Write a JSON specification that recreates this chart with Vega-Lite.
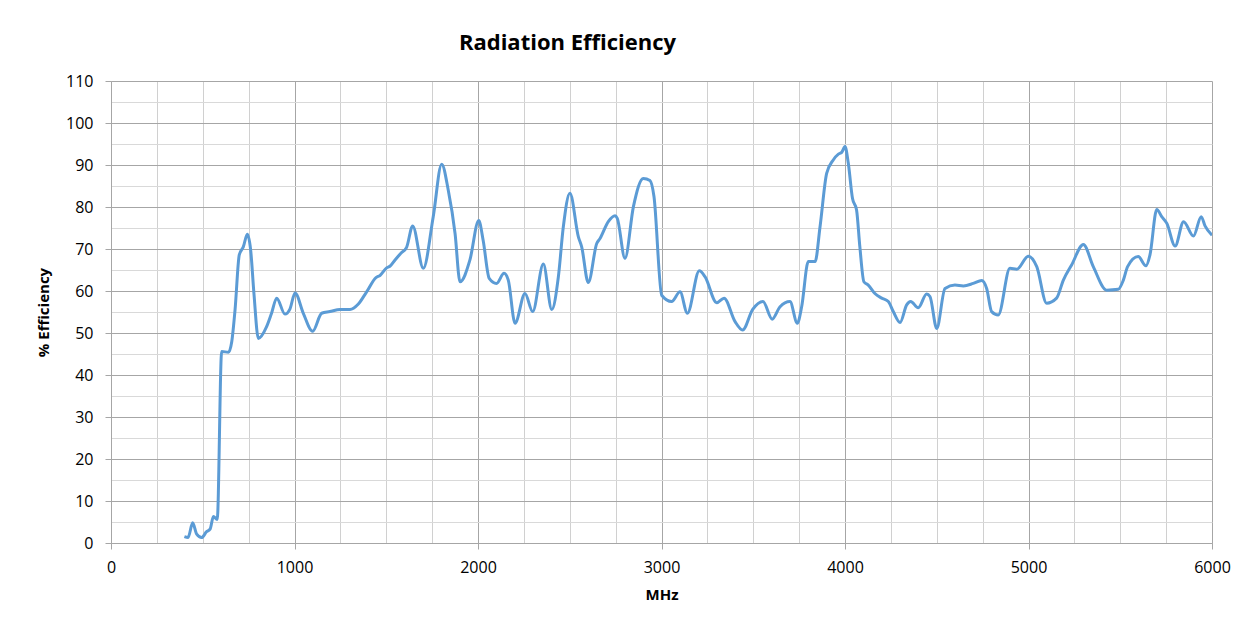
{
  "$schema": "https://vega.github.io/schema/vega-lite/v6.json",
  "width": 1101,
  "height": 462,
  "autosize": {"type": "none"},
  "padding": {"left": 111, "top": 81, "right": 34, "bottom": 89},
  "background": "white",
  "config": {
    "view": {"stroke": null},
    "font": "Open Sans"
  },
  "title": {
    "text": "Radiation Efficiency",
    "anchor": "middle",
    "dx": -94,
    "offset": 18,
    "font": "Open Sans",
    "fontSize": 22,
    "fontWeight": "bold",
    "color": "#000000"
  },
  "data": {
    "values": [
      {"MHz": 400, "eff": 1.5}, {"MHz": 420, "eff": 1.3}, {"MHz": 445, "eff": 4.8}, {"MHz": 467, "eff": 2.1},
      {"MHz": 494, "eff": 1.3}, {"MHz": 521, "eff": 2.7}, {"MHz": 540, "eff": 3.3}, {"MHz": 558, "eff": 6.3},
      {"MHz": 579, "eff": 5.6}, {"MHz": 603, "eff": 45.6}, {"MHz": 640, "eff": 45.4}, {"MHz": 658, "eff": 47.9},
      {"MHz": 676, "eff": 55.5}, {"MHz": 699, "eff": 68.6}, {"MHz": 721, "eff": 70.5}, {"MHz": 743, "eff": 73.5},
      {"MHz": 761, "eff": 69.8}, {"MHz": 779, "eff": 59.4}, {"MHz": 803, "eff": 48.7}, {"MHz": 848, "eff": 51.5},
      {"MHz": 875, "eff": 54.7}, {"MHz": 903, "eff": 58.3}, {"MHz": 948, "eff": 54.5}, {"MHz": 975, "eff": 55.7},
      {"MHz": 1003, "eff": 59.5}, {"MHz": 1048, "eff": 54.7}, {"MHz": 1099, "eff": 50.4}, {"MHz": 1148, "eff": 54.7},
      {"MHz": 1193, "eff": 55.1}, {"MHz": 1248, "eff": 55.6}, {"MHz": 1302, "eff": 55.6}, {"MHz": 1348, "eff": 56.9},
      {"MHz": 1393, "eff": 59.8}, {"MHz": 1444, "eff": 63.2}, {"MHz": 1466, "eff": 63.7}, {"MHz": 1502, "eff": 65.5},
      {"MHz": 1520, "eff": 65.9}, {"MHz": 1548, "eff": 67.4}, {"MHz": 1580, "eff": 69.0}, {"MHz": 1611, "eff": 70.4},
      {"MHz": 1644, "eff": 75.5}, {"MHz": 1702, "eff": 65.4}, {"MHz": 1756, "eff": 77.7}, {"MHz": 1802, "eff": 90.2},
      {"MHz": 1838, "eff": 84.0}, {"MHz": 1875, "eff": 73.7}, {"MHz": 1902, "eff": 62.2}, {"MHz": 1956, "eff": 67.4},
      {"MHz": 2004, "eff": 76.8}, {"MHz": 2028, "eff": 72.1}, {"MHz": 2061, "eff": 63.0}, {"MHz": 2101, "eff": 61.8},
      {"MHz": 2142, "eff": 64.2}, {"MHz": 2165, "eff": 62.6}, {"MHz": 2202, "eff": 52.3}, {"MHz": 2256, "eff": 59.4},
      {"MHz": 2298, "eff": 55.1}, {"MHz": 2356, "eff": 66.4}, {"MHz": 2402, "eff": 55.6}, {"MHz": 2438, "eff": 63.4},
      {"MHz": 2465, "eff": 75.3}, {"MHz": 2501, "eff": 83.3}, {"MHz": 2547, "eff": 72.9}, {"MHz": 2565, "eff": 70.5},
      {"MHz": 2601, "eff": 62.0}, {"MHz": 2647, "eff": 71.3}, {"MHz": 2665, "eff": 72.5}, {"MHz": 2710, "eff": 76.5},
      {"MHz": 2747, "eff": 77.9}, {"MHz": 2759, "eff": 77.3}, {"MHz": 2801, "eff": 67.8}, {"MHz": 2847, "eff": 80.1},
      {"MHz": 2901, "eff": 86.8}, {"MHz": 2937, "eff": 86.3}, {"MHz": 2959, "eff": 82.5}, {"MHz": 3001, "eff": 59.0},
      {"MHz": 3055, "eff": 57.5}, {"MHz": 3101, "eff": 59.8}, {"MHz": 3141, "eff": 54.7}, {"MHz": 3206, "eff": 64.8},
      {"MHz": 3237, "eff": 63.4}, {"MHz": 3301, "eff": 57.2}, {"MHz": 3341, "eff": 58.3}, {"MHz": 3401, "eff": 52.7},
      {"MHz": 3442, "eff": 50.7}, {"MHz": 3497, "eff": 55.6}, {"MHz": 3553, "eff": 57.5}, {"MHz": 3603, "eff": 53.3},
      {"MHz": 3645, "eff": 56.2}, {"MHz": 3700, "eff": 57.5}, {"MHz": 3740, "eff": 52.3}, {"MHz": 3764, "eff": 56.3},
      {"MHz": 3800, "eff": 67.0}, {"MHz": 3837, "eff": 67.0}, {"MHz": 3864, "eff": 75.3}, {"MHz": 3900, "eff": 88.0},
      {"MHz": 3936, "eff": 91.2}, {"MHz": 3964, "eff": 92.6}, {"MHz": 3982, "eff": 93.0}, {"MHz": 4000, "eff": 94.4},
      {"MHz": 4018, "eff": 90.4}, {"MHz": 4041, "eff": 82.0}, {"MHz": 4063, "eff": 79.3}, {"MHz": 4081, "eff": 70.5},
      {"MHz": 4103, "eff": 62.2}, {"MHz": 4127, "eff": 61.4}, {"MHz": 4163, "eff": 59.4}, {"MHz": 4200, "eff": 58.3},
      {"MHz": 4236, "eff": 57.5}, {"MHz": 4263, "eff": 55.1}, {"MHz": 4300, "eff": 52.5}, {"MHz": 4336, "eff": 56.7},
      {"MHz": 4358, "eff": 57.5}, {"MHz": 4399, "eff": 56.0}, {"MHz": 4445, "eff": 59.3}, {"MHz": 4463, "eff": 58.7},
      {"MHz": 4500, "eff": 51.1}, {"MHz": 4545, "eff": 60.6}, {"MHz": 4599, "eff": 61.4}, {"MHz": 4645, "eff": 61.2},
      {"MHz": 4699, "eff": 61.8}, {"MHz": 4745, "eff": 62.5}, {"MHz": 4772, "eff": 60.6}, {"MHz": 4799, "eff": 55.1},
      {"MHz": 4835, "eff": 54.3}, {"MHz": 4899, "eff": 65.4}, {"MHz": 4936, "eff": 65.2}, {"MHz": 4999, "eff": 68.3},
      {"MHz": 5045, "eff": 65.8}, {"MHz": 5099, "eff": 57.1}, {"MHz": 5153, "eff": 58.3}, {"MHz": 5190, "eff": 62.6},
      {"MHz": 5235, "eff": 66.2}, {"MHz": 5299, "eff": 71.1}, {"MHz": 5353, "eff": 65.8}, {"MHz": 5426, "eff": 60.2},
      {"MHz": 5489, "eff": 60.4}, {"MHz": 5517, "eff": 62.6}, {"MHz": 5540, "eff": 65.8}, {"MHz": 5598, "eff": 68.2},
      {"MHz": 5640, "eff": 66.0}, {"MHz": 5662, "eff": 68.6}, {"MHz": 5699, "eff": 79.4}, {"MHz": 5726, "eff": 77.7},
      {"MHz": 5754, "eff": 76.1}, {"MHz": 5799, "eff": 70.7}, {"MHz": 5845, "eff": 76.5}, {"MHz": 5899, "eff": 73.1},
      {"MHz": 5941, "eff": 77.7}, {"MHz": 5962, "eff": 75.5}, {"MHz": 6000, "eff": 73.3}
    ]
  },
  "mark": {"type": "line", "color": "#5b9bd5", "strokeWidth": 3, "interpolate": "monotone", "clip": true},
  "encoding": {
    "x": {
      "field": "MHz",
      "type": "quantitative",
      "scale": {"domain": [0, 6000], "nice": false, "zero": false},
      "axis": {
        "title": "MHz",
        "titleFont": "Open Sans",
        "titleFontSize": 15,
        "titleFontWeight": "bold",
        "titleColor": "#000000",
        "titlePadding": 12,
        "values": [0, 250, 500, 750, 1000, 1250, 1500, 1750, 2000, 2250, 2500, 2750, 3000, 3250, 3500, 3750, 4000, 4250, 4500, 4750, 5000, 5250, 5500, 5750, 6000],
        "labelExpr": "datum.value % 1000 === 0 ? datum.value : ''",
        "labelFont": "Open Sans",
        "labelFontSize": 16,
        "labelColor": "#000000",
        "labelPadding": 10,
        "labelFlush": false,
        "labelOverlap": false,
        "grid": true,
        "gridColor": {"condition": {"test": "datum.value % 1000 === 0", "value": "#a6a6a6"}, "value": "#d0d0d0"},
        "gridWidth": 1,
        "domainColor": "#a6a6a6",
        "domainWidth": 1,
        "tickColor": "#a6a6a6",
        "tickSize": 6,
        "tickOpacity": {"condition": {"test": "datum.value % 1000 === 0", "value": 1}, "value": 0}
      }
    },
    "y": {
      "field": "eff",
      "type": "quantitative",
      "scale": {"domain": [0, 110], "nice": false},
      "axis": {
        "title": "% Efficiency",
        "titleFont": "Open Sans",
        "titleFontSize": 15,
        "titleFontWeight": "bold",
        "titleColor": "#000000",
        "titlePadding": 14,
        "values": [0, 5, 10, 15, 20, 25, 30, 35, 40, 45, 50, 55, 60, 65, 70, 75, 80, 85, 90, 95, 100, 105, 110],
        "labelExpr": "datum.value % 10 === 0 ? datum.value : ''",
        "labelFont": "Open Sans",
        "labelFontSize": 16,
        "labelColor": "#000000",
        "labelPadding": 12,
        "labelOverlap": false,
        "grid": true,
        "gridColor": {"condition": {"test": "datum.value % 10 === 0", "value": "#a6a6a6"}, "value": "#d9d9d9"},
        "gridWidth": 1,
        "domainColor": "#a6a6a6",
        "domainWidth": 1,
        "tickColor": "#a6a6a6",
        "tickSize": 6,
        "tickOpacity": {"condition": {"test": "datum.value % 10 === 0", "value": 1}, "value": 0}
      }
    }
  }
}
